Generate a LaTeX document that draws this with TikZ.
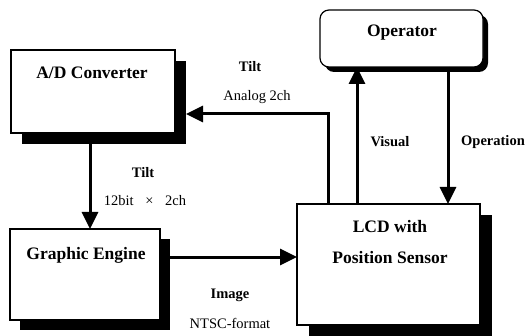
\documentclass[tikz,border=0pt]{standalone}
\usepackage{fontspec}
\setmainfont{Liberation Serif}
\usetikzlibrary{shadows,arrows.meta,calc}
\begin{document}
\begin{tikzpicture}[x=1pt,y=-1pt,
  box/.style={draw, line width=1.2pt, fill=white, inner sep=0pt, outer sep=0pt},
  big/.style={font=\fontsize{17.5}{20}\selectfont\bfseries, inner sep=0pt},
  lbl/.style={font=\fontsize{14.5}{17}\selectfont\bfseries, inner sep=0pt},
  lblr/.style={font=\fontsize{14.5}{17}\selectfont, inner sep=0pt},
  arr/.style={line width=3pt, -{Triangle[length=17pt,width=16pt]}},
  shd/.style 2 args={drop shadow={shadow xshift=#1, shadow yshift=-#2, fill=black, opacity=1}}]
\useasboundingbox (0,0) rectangle (526,336);

% boxes
\node[box, shd={11pt}{11pt}, minimum width=164pt, minimum height=83pt] (ad) at (93,91.5) {};
\node[box, shd={10pt}{10pt}, minimum width=150pt, minimum height=91pt] (ge) at (85,274.5) {};
\node[box, shd={12pt}{11pt}, minimum width=183pt, minimum height=121pt] (lcd) at (388.5,264.5) {};
\node[box, shd={5pt}{5pt}, rounded corners=9pt, minimum width=163pt, minimum height=57pt] (op) at (401.5,38.5) {};

% box texts
\node[big] (adT) at (92,73) {A/D Converter};
\node[big] (geT) at (86,255) {Graphic Engine};
\node[big] (opT) at (402,33) {Operator};
\node[big] (lcdT1) at (390,227) {LCD with};
\node[big] (lcdT2) at (390,258) {Position Sensor};

% connectors
\draw[arr] ([xshift=-3pt]ad.south) -- ([xshift=5pt]ge.north);
\draw[arr] ([yshift=17.5pt]ge.east) coordinate (g1) -- (g1 -| lcd.west);
\draw[arr] ([xshift=-60.5pt]lcd.north) |- ([xshift=11pt,yshift=-22.5pt]ad.east);
\draw[arr] ([xshift=-31.5pt]lcd.north) coordinate (v1) -- (v1 |- op.south);
\draw[arr] ([xshift=46.5pt]op.south) coordinate (o1) -- (o1 |- lcd.north);

% labels
\node[lbl] (t1) at (250,67) {Tilt};
\node[lblr] (a1) at (257,97) {Analog 2ch};
\node[lbl] (t2) at (143,173) {Tilt};
\node[lblr] (b1) at (145,201) {12bit\hspace{0.8em}×\hspace{0.8em}2ch};
\node[lbl] (im) at (230,295) {Image};
\node[lblr] (nt) at (230,323) {NTSC-format};
\node[lbl] (vi) at (390,142) {Visual};
\node[lbl] (opn) at (493,142) {Operation};
\end{tikzpicture}
\end{document}
